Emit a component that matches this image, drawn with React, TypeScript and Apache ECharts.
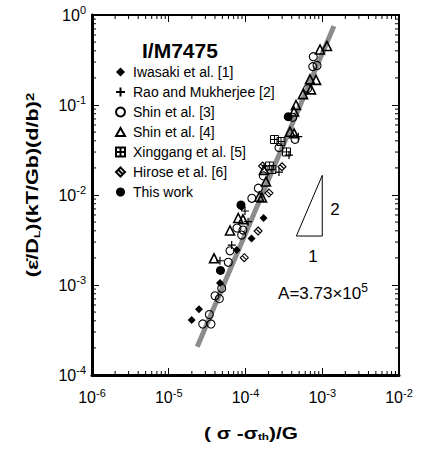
import React, { useEffect, useRef } from 'react';
import * as echarts from 'echarts';

const FONT = '"Liberation Sans", Arial, Helvetica, sans-serif';

// Axis extents (log10 decades)
const X_MIN = 1e-6;
const X_MAX = 1e-2;
const Y_MIN = 1e-4;
const Y_MAX = 1;

// Power-law fit: y = A * x^2
const A_COEF = 3.73e5;
const FIT_EXPONENT = 2;
const FIT_X = [2.35e-5, 1.42e-3];

// Slope-2 indicator triangle
const SLOPE_X = [4.6e-4, 1.0e-3];
const SLOPE_BASE_Y = 3.5e-3;

// Minor tick multipliers inside each decade
const MINOR_STEPS = [2, 3, 4, 5, 6, 7, 8, 9];
const X_DECADES = [-6, -5, -4, -3];
const Y_DECADES = [-4, -3, -2, -1];

const LEGEND_NAMES = [
  'Iwasaki et al. [1]',
  'Rao and Mukherjee [2]',
  'Shin et al. [3]',
  'Shin et al. [4]',
  'Xinggang et al. [5]',
  'Hirose et al. [6]',
  'This work',
];

// [(σ-σth)/G, normalized strain rate]
const IWASAKI = [
  [1.72e-4, 5.55e-3], [1.2e-4, 3.29e-3], [7.67e-5, 2.45e-3], [8.91e-5, 7.36e-3],
  [4.65e-5, 1.05e-3], [2.48e-5, 5.37e-4], [1.99e-5, 4.08e-4],
];
const RAO = [
  [4.88e-4, 4.45e-2], [3.69e-4, 2.78e-2], [2.73e-4, 1.8e-2], [9.84e-5, 6.64e-3],
  [1.08e-4, 5.05e-3], [6.61e-5, 2.78e-3], [4.65e-5, 1.86e-3],
];
const SHIN3 = [
  [7.64e-4, 0.344], [7.52e-4, 0.267], [8.55e-4, 0.275], [6.43e-4, 0.152],
  [4.12e-4, 7.3e-2], [4.42e-4, 4.16e-2], [2.73e-4, 3.36e-2], [1.71e-4, 1.63e-2],
  [1.47e-4, 1.19e-2], [1.21e-4, 9.19e-3], [7.74e-5, 4.3e-3], [9.27e-5, 4.08e-3],
  [8.91e-5, 3.59e-3], [6.28e-5, 2.4e-3], [5.97e-5, 1.79e-3], [4.9e-5, 9.19e-4],
  [4.01e-5, 7.6e-4], [4.56e-5, 7.05e-4], [3.38e-5, 4.7e-4], [2.77e-5, 3.69e-4],
  [3.55e-5, 3.69e-4],
];
const SHIN4 = [
  [1.15e-3, 0.453], [9.35e-4, 0.414], [6.92e-4, 0.193], [8.3e-4, 0.19],
  [7.13e-4, 0.149], [5.61e-4, 0.132], [4.55e-4, 0.1], [4.29e-4, 8.47e-2],
  [3.8e-4, 5.05e-2], [4.29e-4, 4.85e-2], [1.74e-4, 1.9e-2], [1.85e-4, 1.41e-2],
  [1.51e-4, 9.57e-3], [1.64e-4, 9.38e-3], [8.05e-5, 5.55e-3], [9.27e-5, 5.37e-3],
  [6.28e-5, 4.04e-3], [3.89e-5, 1.98e-3],
];
const XINGGANG = [
  [2.39e-4, 4.14e-2], [2.9e-4, 3.93e-2], [3.42e-4, 3.01e-2], [2.06e-4, 2.1e-2],
  [2.21e-4, 1.92e-2],
];
const HIROSE = [
  [2.99e-4, 2.06e-2], [1.67e-4, 2.1e-2], [2.02e-4, 1.05e-2], [1.46e-4, 3.98e-3],
  [9.64e-5, 2.01e-3],
];
const THIS_WORK = [
  [3.61e-4, 7.41e-2], [8.73e-5, 7.74e-3], [4.72e-5, 1.45e-3],
];

const SYM_PLUS = 'path://M5,0V10M0,5H10';
const SYM_TRI = 'path://M5,0L10,9L0,9Z';
const SYM_BOXCROSS = 'path://M0,0H10V10H0ZM5,0V10M0,5H10';
const SYM_HATCH = 'path://M5,0L10,5L5,10L0,5ZM2.5,2.5L7.5,7.5';

const CLEAR = 'rgba(0,0,0,0)';

function scatter(name: string, data: number[][], symbol: string, size: number, filled: boolean, bw = 1) {
  return {
    name,
    type: 'scatter',
    data,
    symbol,
    symbolSize: size,
    silent: true,
    z: 3,
    itemStyle: {
      color: filled ? '#000' : CLEAR,
      borderColor: '#000',
      borderWidth: filled ? 0 : bw,
      opacity: 1,
    },
  };
}

function supLabel(v: number) {
  const e = Math.round(Math.log10(v));
  return `{b|10}{s|${e}}`;
}

const TICK_RICH = {
  b: { fontSize: 16, fontFamily: FONT, color: '#000', lineHeight: 21 },
  s: { fontSize: 11, fontFamily: FONT, color: '#000', lineHeight: 11, verticalAlign: 'top' },
};

export default function App() {
  const ref = useRef<HTMLDivElement>(null);

  useEffect(() => {
    if (!ref.current) return;
    const chart = echarts.init(ref.current, undefined, { renderer: 'svg' });

    const fitData = FIT_X.map((x) => [x, A_COEF * Math.pow(x, FIT_EXPONENT)]);
    const slopeTop = SLOPE_BASE_Y * Math.pow(SLOPE_X[1] / SLOPE_X[0], FIT_EXPONENT);
    const slopeData = [
      [SLOPE_X[0], SLOPE_BASE_Y],
      [SLOPE_X[1], SLOPE_BASE_Y],
      [SLOPE_X[1], slopeTop],
      [SLOPE_X[0], SLOPE_BASE_Y],
    ];

    const xMinor: number[][] = [];
    X_DECADES.forEach((d) => MINOR_STEPS.forEach((m) => xMinor.push([m * Math.pow(10, d), Y_MIN])));
    const yMinor: number[][] = [];
    Y_DECADES.forEach((d) => MINOR_STEPS.forEach((m) => yMinor.push([X_MIN, m * Math.pow(10, d)])));

    const aExp = Math.floor(Math.log10(A_COEF));
    const aMant = (A_COEF / Math.pow(10, aExp)).toFixed(2);

    const axisCommon = {
      type: 'log',
      logBase: 10,
      splitNumber: 4,
      splitLine: { show: false },
      axisTick: { show: true, inside: true, length: 7, lineStyle: { color: '#000', width: 1 } },
    };

    chart.setOption({
      animation: false,
      backgroundColor: '#fff',
      grid: { left: 92, right: 25, top: 15, bottom: 74 },
      xAxis: [
        {
          ...axisCommon,
          position: 'bottom',
          min: X_MIN,
          max: X_MAX,
          axisLine: { show: true, lineStyle: { color: '#000', width: 3 } },
          axisLabel: { margin: 12, formatter: supLabel, rich: TICK_RICH },
        },
        {
          ...axisCommon,
          position: 'top',
          min: X_MIN,
          max: X_MAX,
          axisLine: { show: true, lineStyle: { color: '#000', width: 2 } },
          axisLabel: { show: false },
        },
      ],
      yAxis: [
        {
          ...axisCommon,
          position: 'left',
          min: Y_MIN,
          max: Y_MAX,
          axisLine: { show: true, lineStyle: { color: '#000', width: 3 } },
          axisLabel: { margin: 6, formatter: supLabel, rich: TICK_RICH },
        },
        {
          ...axisCommon,
          position: 'right',
          min: Y_MIN,
          max: Y_MAX,
          axisLine: { show: true, lineStyle: { color: '#000', width: 2 } },
          axisLabel: { show: false },
        },
      ],
      legend: {
        data: LEGEND_NAMES,
        orient: 'vertical',
        left: 115,
        top: 65,
        padding: 0,
        itemWidth: 9,
        itemHeight: 9,
        itemGap: 6,
        selectedMode: false,
        textStyle: { fontSize: 14, fontFamily: FONT, color: '#000', lineHeight: 14, padding: [0, 0, 0, 3] },
      },
      graphic: [
        {
          type: 'text',
          x: 142,
          y: 50,
          style: {
            text: 'I/M7475',
            fontSize: 21,
            fontWeight: 'bold',
            fontFamily: FONT,
            fill: '#000',
            verticalAlign: 'middle',
            textVerticalAlign: 'middle',
          },
        },
        {
          type: 'text',
          x: 33,
          y: 185,
          rotation: Math.PI / 2,
          scaleX: 1.35,
          style: {
            text: '(ε̇/D{sub|L})(kT/Gb)(d/b){sup|2}',
            fontSize: 16,
            fontWeight: 'bold',
            fontFamily: FONT,
            fill: '#000',
            align: 'center',
            verticalAlign: 'middle',
            textAlign: 'center',
            textVerticalAlign: 'middle',
            rich: {
              sub: { fontSize: 9, fontWeight: 'bold', fontFamily: FONT, fill: '#000', lineHeight: 9, verticalAlign: 'bottom' },
              sup: { fontSize: 11, fontWeight: 'bold', fontFamily: FONT, fill: '#000', lineHeight: 11, verticalAlign: 'top' },
            },
          },
        },
        {
          type: 'text',
          x: 251,
          y: 433,
          scaleX: 1.3,
          style: {
            text: '( σ -σ{sub|th})/G',
            fontSize: 16,
            fontWeight: 'bold',
            fontFamily: FONT,
            fill: '#000',
            align: 'center',
            verticalAlign: 'middle',
            textAlign: 'center',
            textVerticalAlign: 'middle',
            rich: {
              sub: { fontSize: 9, fontWeight: 'bold', fontFamily: FONT, fill: '#000', lineHeight: 9, verticalAlign: 'bottom' },
            },
          },
        },
        {
          type: 'text',
          x: 335,
          y: 209,
          style: { text: String(FIT_EXPONENT), fontSize: 17, fontFamily: FONT, fill: '#000', align: 'center', verticalAlign: 'middle', textAlign: 'center', textVerticalAlign: 'middle' },
        },
        {
          type: 'text',
          x: 313,
          y: 256,
          style: { text: '1', fontSize: 17, fontFamily: FONT, fill: '#000', align: 'center', verticalAlign: 'middle', textAlign: 'center', textVerticalAlign: 'middle' },
        },
        {
          type: 'text',
          x: 323,
          y: 293,
          style: {
            text: `{n|A=${aMant}×10}{e|${aExp}}`,
            align: 'center',
            verticalAlign: 'middle',
            textAlign: 'center',
            textVerticalAlign: 'middle',
            rich: {
              n: { fontSize: 17, fontFamily: FONT, fill: '#000', lineHeight: 22 },
              e: { fontSize: 12, fontFamily: FONT, fill: '#000', lineHeight: 12, verticalAlign: 'top' },
            },
          },
        },
      ],
      series: [
        {
          type: 'custom',
          coordinateSystem: 'cartesian2d',
          silent: true,
          clip: false,
          z: 1,
          data: xMinor,
          renderItem: (_p: any, api: any) => {
            const v = api.value(0);
            const b = api.coord([v, Y_MIN]);
            const t = api.coord([v, Y_MAX]);
            return {
              type: 'group',
              children: [
                { type: 'line', shape: { x1: b[0], y1: b[1], x2: b[0], y2: b[1] - 4 }, style: { stroke: '#000', lineWidth: 1 } },
                { type: 'line', shape: { x1: t[0], y1: t[1], x2: t[0], y2: t[1] + 4 }, style: { stroke: '#000', lineWidth: 1 } },
              ],
            };
          },
        },
        {
          type: 'custom',
          coordinateSystem: 'cartesian2d',
          silent: true,
          clip: false,
          z: 1,
          data: yMinor,
          renderItem: (_p: any, api: any) => {
            const v = api.value(1);
            const l = api.coord([X_MIN, v]);
            const r = api.coord([X_MAX, v]);
            return {
              type: 'group',
              children: [
                { type: 'line', shape: { x1: l[0], y1: l[1], x2: l[0] + 4, y2: l[1] }, style: { stroke: '#000', lineWidth: 1 } },
                { type: 'line', shape: { x1: r[0], y1: r[1], x2: r[0] - 4, y2: r[1] }, style: { stroke: '#000', lineWidth: 1 } },
              ],
            };
          },
        },
        {
          type: 'line',
          data: fitData,
          symbol: 'none',
          silent: true,
          z: 1,
          lineStyle: { color: '#8c8c8c', width: 5, cap: 'butt' },
        },
        {
          type: 'line',
          data: slopeData,
          symbol: 'none',
          silent: true,
          z: 2,
          lineStyle: { color: '#000', width: 1 },
        },
        scatter(LEGEND_NAMES[0], IWASAKI, 'diamond', 8, true),
        scatter(LEGEND_NAMES[1], RAO, SYM_PLUS, 8, false, 1.2),
        scatter(LEGEND_NAMES[2], SHIN3, 'circle', 8, false, 1.1),
        scatter(LEGEND_NAMES[3], SHIN4, SYM_TRI, 9, false, 1.6),
        scatter(LEGEND_NAMES[4], XINGGANG, SYM_BOXCROSS, 8, false, 1),
        scatter(LEGEND_NAMES[5], HIROSE, SYM_HATCH, 8, false, 1.1),
        scatter(LEGEND_NAMES[6], THIS_WORK, 'circle', 9, true),
      ],
    });

    return () => chart.dispose();
  }, []);

  return (
    <div
      ref={ref}
      style={{ position: 'fixed', left: 0, top: 0, width: 424, height: 449, background: '#fff' }}
    />
  );
}
